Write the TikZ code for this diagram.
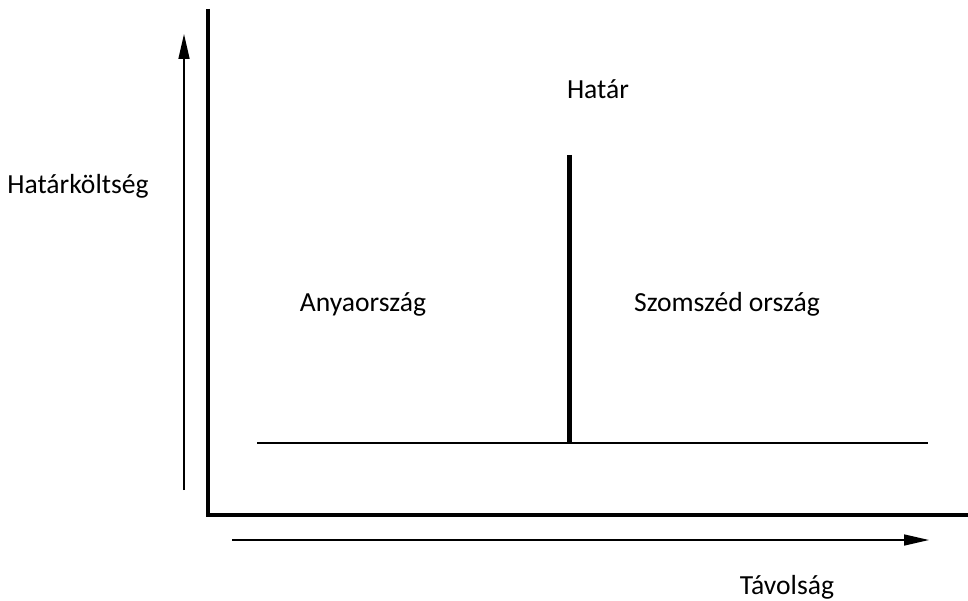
\documentclass[tikz,border=0pt]{standalone}
\usepackage{fontspec}
\setmainfont{Carlito}
\usetikzlibrary{arrows.meta}
\begin{document}
\begin{tikzpicture}[x=1pt,y=-1pt,
  axis/.style={line width=4pt},
  thinarrow/.style={line width=1.6pt,-{Triangle[length=25pt,width=11pt]}},
  base/.style={line width=1.7pt},
  border/.style={line width=5pt},
  lbl/.style={font=\fontsize{27.6}{32}\selectfont,inner sep=0pt}]
\useasboundingbox (0,0) rectangle (968,601);
\coordinate (top) at (208,9);
\coordinate (origin) at (208,515);
\coordinate (right) at (968,515);
\draw[axis] (top) -- (origin) -- (right);
\coordinate (ua) at (184,490);
\coordinate (ub) at (184,34);
\draw[thinarrow] (ua) -- (ub);
\coordinate (ra) at (232,540);
\coordinate (rb) at (929,540);
\draw[thinarrow] (ra) -- (rb);
\coordinate (bl) at (257,443);
\coordinate (br) at (928,443);
\draw[base] (bl) -- (br);
\coordinate (bt) at (569,155);
\coordinate (bb) at (569,443);
\draw[border] (bt) -- (bb);
\node[lbl] (hatar) at (598,89) {Határ};
\node[lbl] (hk) at (78,186) {Határköltség};
\node[lbl] (anya) at (363,304) {Anyaország};
\node[lbl] (szom) at (727,304) {Szomszéd ország};
\node[lbl] (tav) at (787,587) {Távolság};
\end{tikzpicture}
\end{document}
